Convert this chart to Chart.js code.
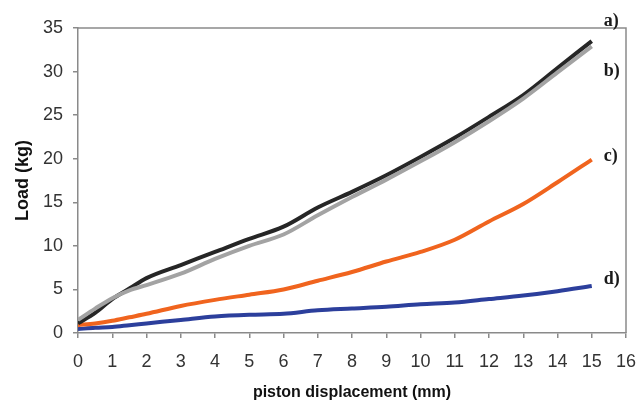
<!DOCTYPE html>
<html>
<head>
<meta charset="utf-8">
<script src="https://cdn.jsdelivr.net/npm/chart.js@4/dist/chart.umd.min.js"></script>
<style>
  html, body { margin: 0; padding: 0; background: #fff; }
  #wrap { width: 636px; height: 405px; }
</style>
</head>
<body>
<div id="wrap"><canvas id="c"></canvas></div>
<script>
// piston displacement (mm)
const xs = [0, 0.5, 1, 1.5, 2, 3, 4, 5, 6, 7, 8, 9, 10, 11, 12, 13, 14, 15];
// load (kg) for each curve
const loadA = [1.1, 2.3, 3.9, 5.1, 6.3, 7.8, 9.3, 10.8, 12.2, 14.4, 16.2, 18.1, 20.2, 22.4, 24.8, 27.3, 30.4, 33.5];
const loadB = [1.5, 2.8, 4.0, 4.9, 5.5, 6.8, 8.5, 10.0, 11.3, 13.5, 15.6, 17.6, 19.7, 21.9, 24.3, 26.9, 29.9, 32.9];
const loadC = [0.9, 1.1, 1.4, 1.8, 2.2, 3.1, 3.8, 4.4, 5.0, 6.0, 7.0, 8.2, 9.3, 10.7, 12.8, 14.8, 17.3, 19.9];
const loadD = [0.45, 0.6, 0.7, 0.9, 1.1, 1.5, 1.9, 2.1, 2.2, 2.6, 2.8, 3.0, 3.3, 3.5, 3.9, 4.3, 4.8, 5.4];

// curve tags shown at the right end
const tagText = ['a)', 'b)', 'c)', 'd)'];
const tagX    = 15.35;
const tagY    = [35.8, 30.0, 20.25, 6.1];

const COLORS = {
  a:    '#262626',
  b:    '#a3a3a3',
  c:    '#f0641e',
  d:    '#2c3f9c',
  axis: '#8a8a8a',
  text: '#333333',
};

const pts = ys => xs.map((x, i) => ({ x, y: ys[i] }));

function line(label, ys, color) {
  return {
    label,
    data: pts(ys),
    borderColor: color,
    borderWidth: 4,
    pointRadius: 0,
    fill: false,
    tension: 0.3,
    cubicInterpolationMode: 'monotone',
  };
}

// box round the plot + a) b) c) d) tags
const framePlugin = {
  id: 'frame',
  afterDatasetsDraw(chart) {
    const { ctx, chartArea: a, scales } = chart;
    ctx.save();
    ctx.strokeStyle = COLORS.axis;
    ctx.lineWidth = 1.5;
    ctx.beginPath();
    ctx.moveTo(a.left, a.top);
    ctx.lineTo(a.right, a.top);
    ctx.lineTo(a.right, a.bottom);
    ctx.stroke();

    ctx.fillStyle = '#1a1a1a';
    ctx.font = 'bold 18px "Liberation Serif", "DejaVu Serif", serif';
    ctx.textAlign = 'left';
    ctx.textBaseline = 'middle';
    tagText.forEach((t, i) => {
      ctx.fillText(t, scales.x.getPixelForValue(tagX), scales.y.getPixelForValue(tagY[i]));
    });
    ctx.restore();
  }
};

const tickFont   = { family: '"Liberation Sans", Arial, sans-serif', size: 18 };
const xTitleFont = { family: '"Liberation Sans", Arial, sans-serif', size: 16, weight: 'bold' };
const yTitleFont = { family: '"Liberation Sans", Arial, sans-serif', size: 18, weight: 'bold' };

new Chart(document.getElementById('c').getContext('2d'), {
  type: 'line',
  data: {
    datasets: [
      line('b)', loadB, COLORS.b),
      line('a)', loadA, COLORS.a),
      line('c)', loadC, COLORS.c),
      line('d)', loadD, COLORS.d),
    ]
  },
  options: {
    responsive: true,
    maintainAspectRatio: false,
    animation: false,
    layout: { padding: { top: 28, right: 0, left: 0, bottom: 0 } },
    plugins: {
      legend: { display: false },
      tooltip: { enabled: false },
    },
    scales: {
      x: {
        type: 'linear',
        min: 0,
        max: 16,
        afterFit: s => { s.height = 72; s.paddingRight = 10; s.paddingLeft = 0; },
        ticks: { stepSize: 1, color: COLORS.text, font: tickFont, padding: 13, maxRotation: 0 },
        grid: { drawOnChartArea: false, drawTicks: true, tickLength: 5, color: COLORS.axis, lineWidth: 1.5 },
        border: { color: COLORS.axis, width: 1.5 },
        title: { display: true, text: 'piston displacement (mm)', color: '#111', font: xTitleFont, padding: { top: 0, bottom: 3 } },
      },
      y: {
        min: 0,
        max: 35,
        afterFit: s => { s.width = 78; },
        ticks: { stepSize: 5, color: COLORS.text, font: tickFont, padding: 10 },
        grid: { drawOnChartArea: false, drawTicks: true, tickLength: 5, color: COLORS.axis, lineWidth: 1.5 },
        border: { color: COLORS.axis, width: 1.5 },
        title: { display: true, text: 'Load (kg)', color: '#111', font: yTitleFont, padding: { top: 12, bottom: 0 } },
      },
    },
  },
  plugins: [framePlugin],
});
</script>
</body>
</html>
